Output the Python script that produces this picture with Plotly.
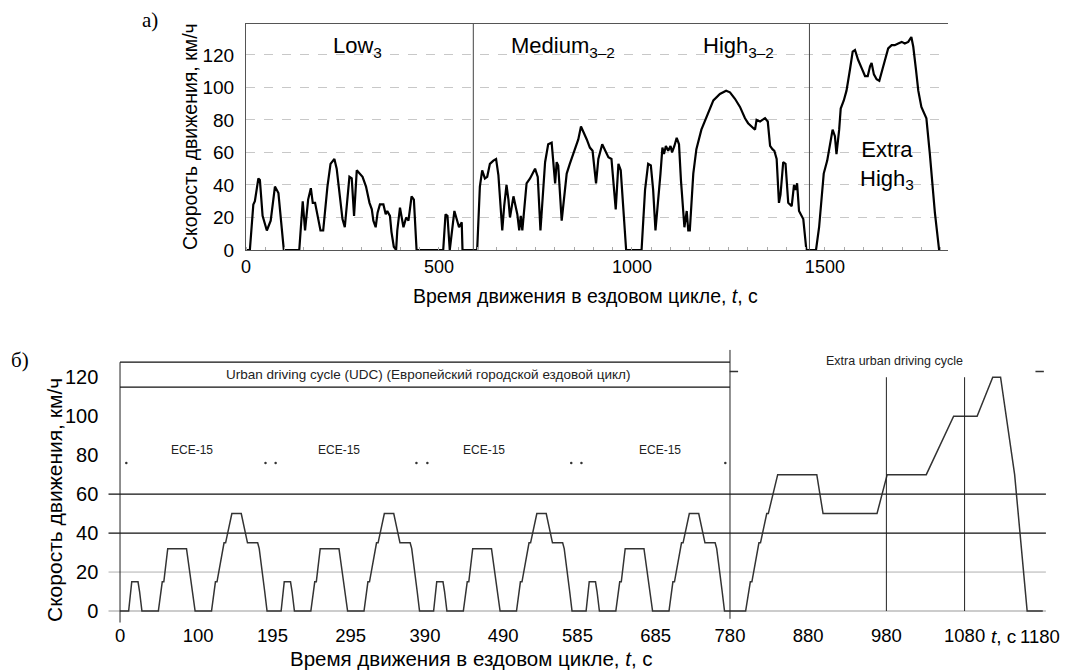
import plotly.graph_objects as go

# ---------------- data: a) WLTC class 3 ----------------
wltc_t = [0, 10, 19, 23, 32, 36, 43, 54, 64, 75, 84, 98, 138, 147, 153, 161, 168, 173, 179, 185, 193, 200,
          211, 219, 229, 235, 244, 250, 256, 263, 268, 274, 280, 287, 295, 302, 311, 320, 326, 330, 336, 341,
          347, 356, 362, 366, 373, 377, 383, 389, 392, 399, 408, 415, 421, 429, 435, 442, 511, 517, 522, 528,
          540, 546, 552, 559, 561, 599,
          606, 612, 619, 625, 632, 641, 648, 654, 660, 664, 669, 675, 680, 684, 693, 699, 703, 708, 712, 716,
          720, 727, 736, 749, 756, 763, 775, 783, 792, 801, 805, 809, 818, 831, 839, 852, 861, 868, 874, 883,
          891, 898, 907, 913, 923, 930, 939, 947, 958, 965, 971, 985, 1025,
          1034, 1042, 1049, 1055, 1061, 1068, 1074, 1079, 1083, 1088, 1094, 1100, 1104, 1110, 1116, 1122, 1127,
          1136, 1142, 1146, 1150, 1159, 1167, 1180, 1193, 1211, 1228, 1244, 1254, 1267, 1280, 1293, 1301, 1310,
          1319, 1323, 1332, 1338, 1345, 1352, 1358, 1364, 1369, 1375, 1381, 1385, 1392, 1398, 1405, 1414, 1420,
          1424, 1428, 1433, 1440, 1444, 1452, 1477,
          1485, 1491, 1497, 1506, 1513, 1520, 1526, 1530, 1537, 1541, 1549, 1556, 1565, 1572, 1578, 1586, 1595,
          1604, 1611, 1617, 1621, 1627, 1634, 1641, 1649, 1658, 1664, 1673, 1681, 1690, 1699, 1707, 1716, 1724,
          1729, 1736, 1742, 1750, 1763, 1772, 1779, 1785, 1796, 1800]
wltc_v = [0, 0, 28, 30, 44, 43, 21, 12, 18, 39, 35, 0, 0, 30, 12, 31, 38, 29, 29, 22, 12, 12,
          39, 53, 56, 50, 29, 19, 14, 33, 45, 44, 21, 49, 47, 45, 39, 29, 25, 18, 14, 23,
          28, 28, 22, 24, 21, 11, 2, 0, 12, 26, 14, 20, 18, 33, 31, 0, 0, 22, 21, 0,
          24, 19, 14, 17, 0, 0,
          39, 49, 44, 45, 53, 55, 56, 46, 27, 12, 27, 40, 31, 20, 33, 26, 22, 12, 21, 12,
          21, 41, 44, 50, 45, 12, 54, 65, 66, 41, 54, 52, 18, 47, 53, 62, 68, 76, 73, 68,
          63, 61, 41, 56, 65, 61, 57, 56, 25, 53, 49, 0, 0,
          37, 53, 52, 37, 12, 29, 47, 63, 59, 64, 61, 64, 60, 64, 69, 65, 43,
          14, 24, 12, 12, 47, 62, 74, 82, 92, 96, 98, 97, 93, 88, 81, 78, 76,
          74, 80, 79, 80, 81, 79, 64, 62, 61, 56, 29, 34, 54, 53, 29, 27, 40,
          37, 41, 24, 21, 19, 0, 0,
          14, 31, 47, 55, 64, 74, 70, 59, 74, 87, 92, 98, 111, 122, 123, 117, 112,
          107, 107, 113, 115, 108, 105, 104, 111, 120, 124, 126, 126, 127, 128, 127, 128, 131,
          125, 111, 98, 88, 81, 59, 39, 23, 0, 0]
wltc_phase_bounds = [589, 1460]
wltc_phase_labels = ["Low<sub>3</sub>", "Medium<sub>3–2</sub>", "High<sub>3–2</sub>", "Extra<br>High<sub>3</sub>"]
wltc_phase_label_t = [288, 821, 1277, 1662]
wltc_phase_label_v = [125, 125, 125, 52]
wltc_xticks = [0, 500, 1000, 1500]
wltc_yticks = [0, 20, 40, 60, 80, 100, 120]

# ---------------- data: б) NEDC ----------------
nedc_t = [0, 11, 15, 23, 25, 28, 49, 54, 56, 61, 85, 93, 96, 117, 122, 124, 133, 135, 143, 155, 163, 176, 178, 185, 188,
          195, 206, 210, 218, 220, 223, 244, 249, 251, 256, 280, 288, 291, 312, 317, 319, 328, 330, 338, 350, 358, 371, 373, 380, 383,
          390, 401, 405, 413, 415, 418, 439, 444, 446, 451, 475, 483, 486, 507, 512, 514, 523, 525, 533, 545, 553, 566, 568, 575, 578,
          585, 596, 600, 608, 610, 613, 634, 639, 641, 646, 670, 678, 681, 702, 707, 709, 718, 720, 728, 740, 748, 761, 763, 770, 773,
          780, 800, 806, 808, 817, 819, 827, 829, 841, 891, 899, 968, 981, 1031, 1066, 1096, 1116, 1126, 1144, 1160, 1180]
nedc_v = [0, 0, 15, 15, 10, 0, 0, 15, 15, 32, 32, 10, 0, 0, 15, 15, 35, 35, 50, 50, 35, 35, 32, 10, 0,
          0, 0, 15, 15, 10, 0, 0, 15, 15, 32, 32, 10, 0, 0, 15, 15, 35, 35, 50, 50, 35, 35, 32, 10, 0,
          0, 0, 15, 15, 10, 0, 0, 15, 15, 32, 32, 10, 0, 0, 15, 15, 35, 35, 50, 50, 35, 35, 32, 10, 0,
          0, 0, 15, 15, 10, 0, 0, 15, 15, 32, 32, 10, 0, 0, 15, 15, 35, 35, 50, 50, 35, 35, 32, 10, 0,
          0, 0, 15, 15, 35, 35, 50, 50, 70, 70, 50, 50, 70, 70, 100, 100, 120, 120, 70, 0, 0]
nedc_xticks = [0, 100, 195, 295, 390, 490, 585, 685, 780, 880, 980, 1080]
nedc_yticks = [0, 20, 40, 60, 80, 100, 120]
ece_label_t = [92, 280, 466, 690]
ece_dot_t = [8, 186, 199, 379, 393, 577, 590, 774]
ece_dot_v = [76, 76, 76, 76, 76, 76, 76, 76]

W, H = 1088, 671
OFF = 8  # page body margin in the browser
FONT = "Liberation Sans Narrow, Liberation Sans, Arial, sans-serif"
SERIF = "Liberation Serif, Times New Roman, serif"


def px(x):
    return (x - OFF) / W


def py(y):
    return 1 - (y - OFF) / H


fig = go.Figure()

# ---- a) ----
fig.add_trace(go.Scatter(x=wltc_t, y=wltc_v, mode="lines", line=dict(color="black", width=2.2),
                         xaxis="x", yaxis="y", showlegend=False, hoverinfo="skip"))
# ---- б) ----
fig.add_trace(go.Scatter(x=nedc_t, y=nedc_v, mode="lines", line=dict(color="#333333", width=1.5),
                         xaxis="x2", yaxis="y2", showlegend=False, hoverinfo="skip"))
fig.add_trace(go.Scatter(x=ece_dot_t, y=ece_dot_v, mode="markers",
                         marker=dict(color="#333333", size=2.5), xaxis="x2", yaxis="y2",
                         showlegend=False, hoverinfo="skip"))
fig.add_trace(go.Scatter(x=[785, 1176], y=[123, 123], mode="markers",
                         marker=dict(symbol="line-ew", size=6, line=dict(color="#333333", width=1.5)),
                         xaxis="x2", yaxis="y2", showlegend=False, hoverinfo="skip"))

shapes = []
# separators in a)
for b in wltc_phase_bounds:
    shapes.append(dict(type="line", xref="x", yref="y", x0=b, x1=b, y0=0, y1=139,
                       line=dict(color="#444444", width=1)))
# b) horizontal lines
for yv, col, wd in [(0, "#9a9a9a", 1.2), (20, "#b0b0b0", 1), (40, "#111111", 1.2), (60, "#111111", 1.2)]:
    shapes.append(dict(type="line", xref="x2", yref="y2", x0=-15, x1=1184, y0=yv, y1=yv,
                       line=dict(color=col, width=wd), layer="below"))
# b) axis line at t=0 and bracket
shapes.append(dict(type="line", xref="x2", yref="y2", x0=0, x1=0, y0=-6, y1=127.7,
                   line=dict(color="#222222", width=1)))
for yv in [127.7, 114.9]:
    shapes.append(dict(type="line", xref="x2", yref="y2", x0=0, x1=780, y0=yv, y1=yv,
                       line=dict(color="#111111", width=1.2)))
shapes.append(dict(type="line", xref="x2", yref="y2", x0=780, x1=780, y0=-4, y1=134,
                   line=dict(color="#222222", width=1)))
for xv in [980, 1080]:
    shapes.append(dict(type="line", xref="x2", yref="y2", x0=xv, x1=xv, y0=0, y1=120,
                       line=dict(color="#222222", width=1)))

ann = []
for lab, tx, vy in zip(wltc_phase_labels, wltc_phase_label_t, wltc_phase_label_v):
    ann.append(dict(text=lab, x=tx, y=vy, xref="x", yref="y", showarrow=False,
                    xanchor="center", yanchor="middle",
                    font=dict(family=FONT, size=22, color="black")))
for tx in ece_label_t:
    ann.append(dict(text="ECE-15", x=tx, y=82.6, xref="x2", yref="y2", showarrow=False,
                    xanchor="center", yanchor="middle",
                    font=dict(family=FONT, size=12, color="#222222")))
ann.append(dict(text="Urban driving cycle (UDC) (Европейский городской ездовой цикл)", x=394, y=121.3,
                xref="x2", yref="y2", showarrow=False, xanchor="center", yanchor="middle",
                font=dict(family=FONT, size=13.5, color="#222222")))
ann.append(dict(text="Extra urban driving cycle", x=990, y=128.2, xref="x2", yref="y2", showarrow=False,
                xanchor="center", yanchor="middle",
                font=dict(family=FONT, size=12.5, color="#222222")))


def pann(text, x, y, size, family=FONT, angle=0):
    ann.append(dict(text=text, x=px(x), y=py(y), xref="paper", yref="paper", textangle=angle,
                    xanchor="center", yanchor="middle", showarrow=False,
                    font=dict(family=family, size=size, color="black")))


# axis titles and panel letters
pann("Скорость движения, км/ч", 190, 137, 19.5, angle=-90)
pann("Время движения в ездовом цикле, <i>t</i>, с", 585, 296, 19.5)
pann("Скорость движения, км/ч", 54, 500, 21, angle=-90)
pann("Время движения в ездовом цикле, <i>t</i>, с", 471, 658, 20.5)
pann("<i>t</i>, с", 1003, 636, 19)
pann("1180", 1040, 636, 18.5)
pann("а)", 150, 20, 21, family=SERIF)
pann("б)", 20, 360, 21, family=SERIF)

fig.update_layout(
    template="none",
    width=W, height=H, margin=dict(l=0, r=0, t=0, b=0, pad=0),
    paper_bgcolor="white", plot_bgcolor="white", showlegend=False,
    shapes=shapes, annotations=ann,
    xaxis=dict(domain=[px(246), px(948)], range=[0, 1819], anchor="y", automargin=False,
               tickvals=wltc_xticks, ticks="", showgrid=False, zeroline=False,
               showline=True, linecolor="#555555", linewidth=1, mirror=True,
               minor=dict(ticks="inside", ticklen=3, tickcolor="#aaaaaa", dtick=50, showgrid=False),
               tickfont=dict(family=FONT, size=18, color="black")),
    yaxis=dict(domain=[py(250), py(24)], range=[0, 139], anchor="x", automargin=False,
               tickvals=wltc_yticks, ticks="", showgrid=True, gridcolor="#c8c8c8",
               griddash="dash", gridwidth=1, zeroline=False,
               showline=True, linecolor="#555555", linewidth=1, ticklabelstandoff=7,
               tickfont=dict(family=FONT, size=19, color="black")),
    xaxis2=dict(domain=[px(108.3), px(1046.7)], range=[-15, 1185], anchor="y2", automargin=False,
                tickvals=nedc_xticks, ticks="", showgrid=False, zeroline=False, showline=False,
                tickfont=dict(family=FONT, size=18.5, color="black")),
    yaxis2=dict(domain=[py(622.7), py(348)], range=[-6, 135], anchor="x2", automargin=False,
                tickvals=nedc_yticks, ticks="", showgrid=False, zeroline=False, showline=False,
                ticklabelstandoff=9,
                tickfont=dict(family=FONT, size=20, color="black")),
)

fig.write_html("out.html")
